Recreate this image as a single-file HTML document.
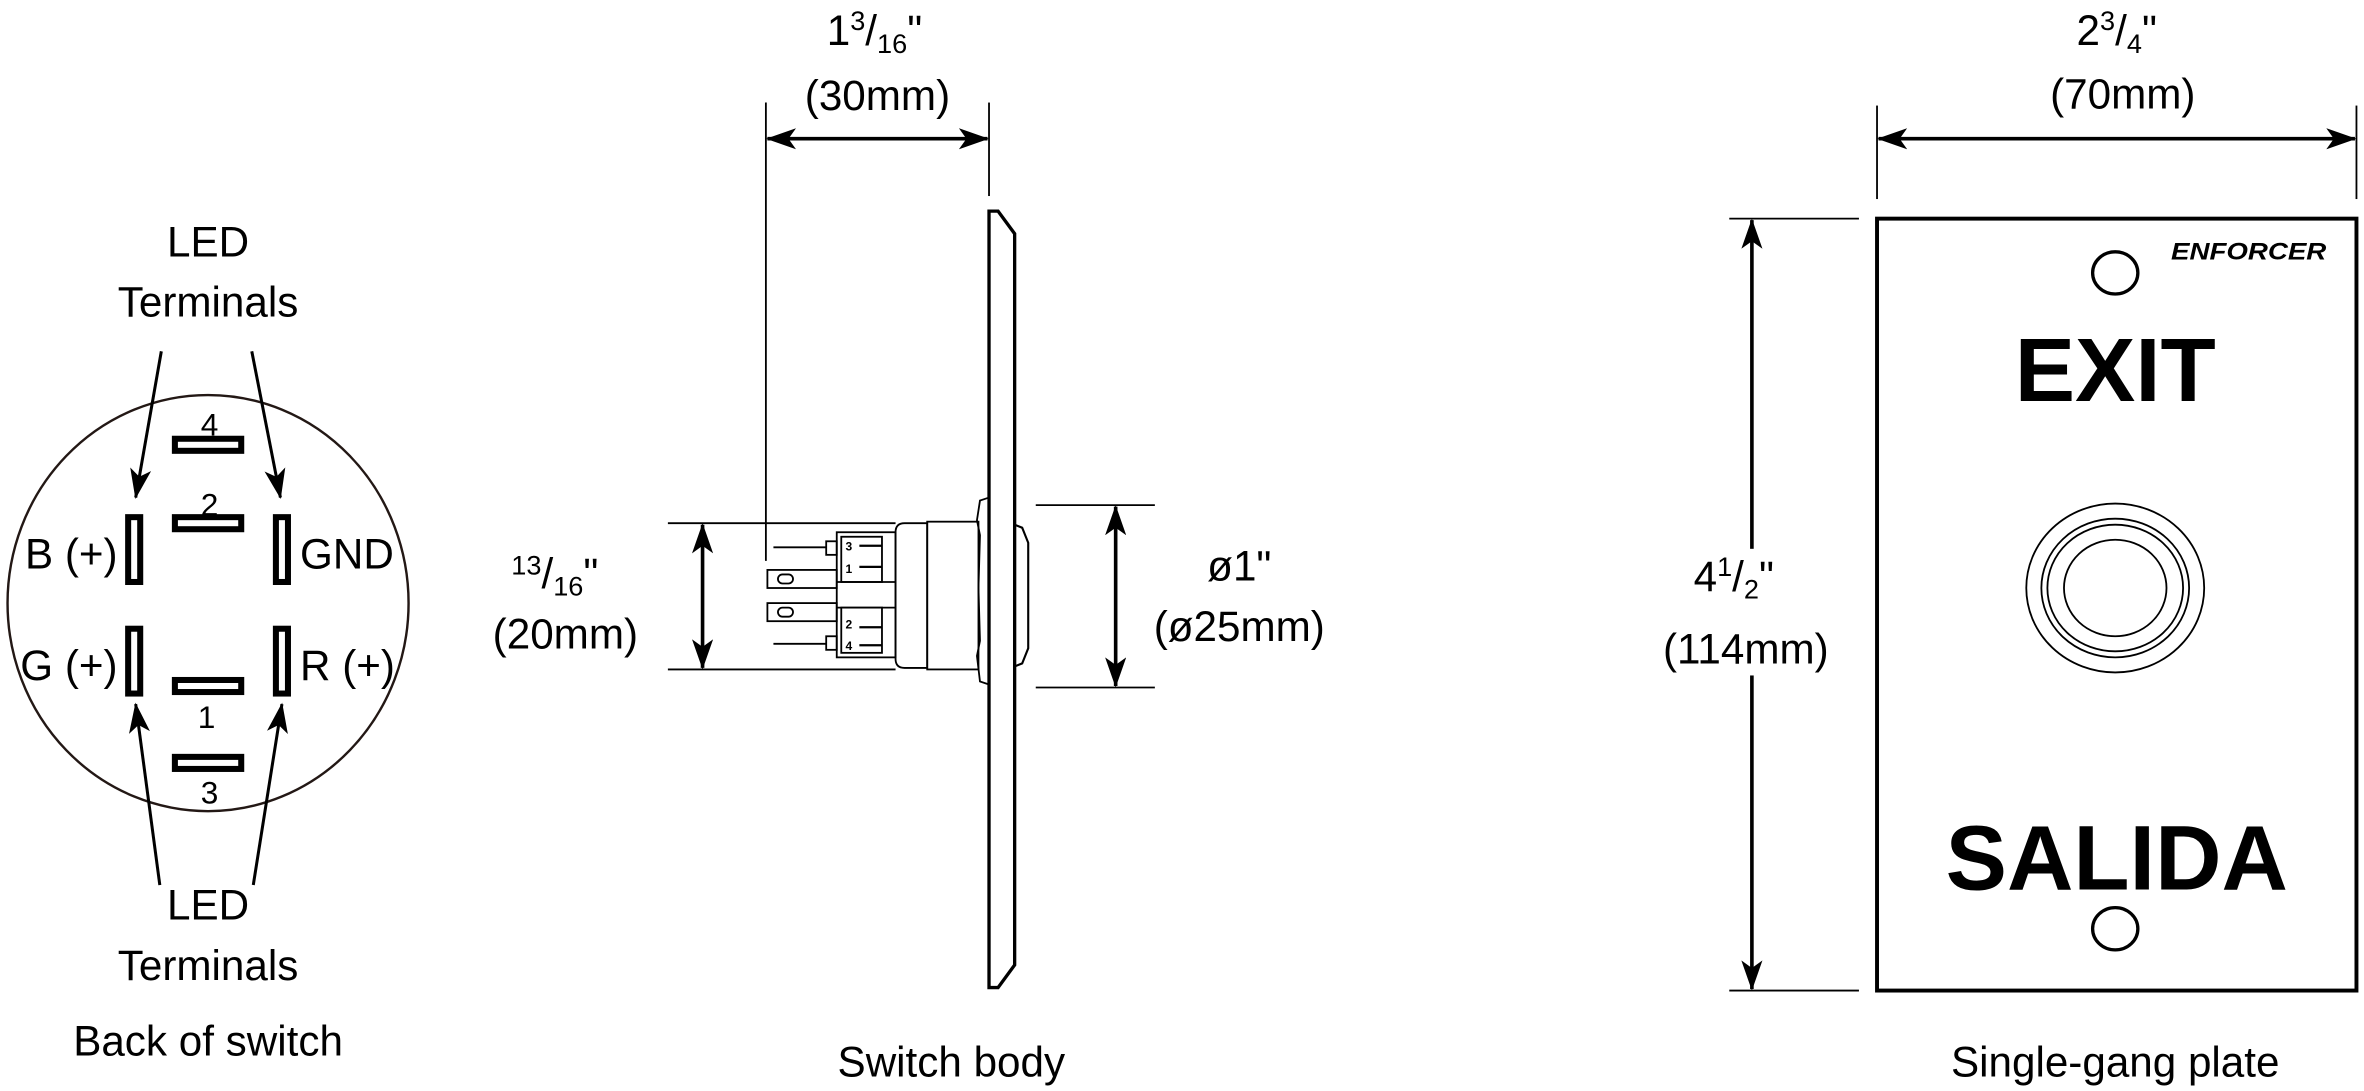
<!DOCTYPE html>
<html><head><meta charset="utf-8"><style>
html,body{margin:0;padding:0;background:#fff;}
svg{display:block;}
text{font-family:"Liberation Sans",sans-serif;fill:#000;}
</style></head><body>
<svg width="2364" height="1091" viewBox="0 0 1568 723.6" xmlns="http://www.w3.org/2000/svg">
<defs>
<marker id="ah" viewBox="0 0 20 14" refX="19" refY="7" markerWidth="20" markerHeight="14" markerUnits="userSpaceOnUse" orient="auto-start-reverse">
<path d="M0,0 L20,7 L0,14 L5,7 Z" fill="#000"/>
</marker>
</defs>
<g font-size="28" text-anchor="middle">
<!-- LEFT -->
<ellipse cx="138" cy="400" rx="133" ry="138" fill="none" stroke="#231815" stroke-width="1.6"/>
<text x="138" y="170">LED</text>
<text x="138" y="210">Terminals</text>
<g fill="none" stroke="#000" stroke-width="4">
<rect x="116" y="291" width="44" height="8"/>
<rect x="116" y="343" width="44" height="8"/>
<rect x="116" y="451" width="44" height="8"/>
<rect x="116" y="502" width="44" height="8"/>
<rect x="85" y="343" width="8" height="43"/>
<rect x="85" y="417" width="8" height="43"/>
<rect x="183" y="343" width="8" height="43"/>
<rect x="183" y="417" width="8" height="43"/>
</g>
<g font-size="21">
<text x="139" y="289">4</text>
<text x="139" y="342">2</text>
<text x="137" y="483">1</text>
<text x="139" y="533">3</text>
</g>
<text x="78" y="377" text-anchor="end">B (+)</text>
<text x="78" y="451" text-anchor="end">G (+)</text>
<text x="199" y="377" text-anchor="start">GND</text>
<text x="199" y="451" text-anchor="start">R (+)</text>
<g stroke="#000" stroke-width="2" marker-end="url(#ah)">
<line x1="107" y1="233" x2="90" y2="330"/>
<line x1="167" y1="233" x2="186" y2="330"/>
<line x1="106" y1="587" x2="90" y2="467"/>
<line x1="168" y1="587" x2="187" y2="467"/>
</g>
<text x="138" y="610">LED</text>
<text x="138" y="650">Terminals</text>
<text x="138" y="700">Back of switch</text>

<!-- MIDDLE -->
<text x="580" y="30">1<tspan font-size="18" dy="-10">3</tspan><tspan dy="10">/</tspan><tspan font-size="18" dy="5">16</tspan><tspan dy="-5">"</tspan></text>
<text x="582" y="73">(30mm)</text>
<g stroke="#000" stroke-width="1.2">
<line x1="508" y1="68" x2="508" y2="372"/>
<line x1="656" y1="68" x2="656" y2="130"/>
<line x1="443" y1="347" x2="594" y2="347"/>
<line x1="443" y1="444" x2="594" y2="444"/>
<line x1="687" y1="335" x2="766" y2="335"/>
<line x1="687" y1="456" x2="766" y2="456"/>
</g>
<g stroke="#000" stroke-width="2.4" marker-end="url(#ah)" marker-start="url(#ah)">
<line x1="509" y1="92" x2="655" y2="92"/>
<line x1="466" y1="348" x2="466" y2="443"/>
<line x1="740" y1="336" x2="740" y2="455"/>
<line x1="1246" y1="92" x2="1562" y2="92"/>
<line x1="1162" y1="146" x2="1162" y2="656"/>
</g>
<text x="368" y="390"><tspan font-size="18" dy="-9">13</tspan><tspan dy="9">/</tspan><tspan font-size="18" dy="5">16</tspan><tspan dy="-5">"</tspan></text>
<text x="375" y="430">(20mm)</text>
<text x="822" y="385">ø1"</text>
<text x="822" y="425">(ø25mm)</text>
<!-- plate profile -->
<path d="M656,140 L662,140 L673,155 L673,640 L662,655 L656,655 Z" fill="#fff" stroke="#000" stroke-width="2.2"/>
<path d="M673,348 L678,350 L682,360 L682,430 L678,440 L673,442" fill="none" stroke="#000" stroke-width="1.4"/>
<!-- switch body -->
<g fill="none" stroke="#000" stroke-width="1.2">
<path d="M656,330 L650,332 L648,345 L650,355 L649,390 L650,425 L648,435 L650,452 L656,454"/>
<rect x="615" y="346" width="34" height="98"/>
<path d="M600,347 L615,347 L615,443 L600,443 Q594,443 594,437 L594,353 Q594,347 600,347 Z"/>
<rect x="555" y="353" width="39" height="83"/>
<rect x="558" y="356" width="27" height="30"/>
<rect x="558" y="403" width="27" height="30"/>
<line x1="555" y1="386" x2="594" y2="386"/>
<line x1="555" y1="403" x2="594" y2="403"/>
<line x1="513" y1="363" x2="548" y2="363"/>
<line x1="513" y1="427" x2="548" y2="427"/>
<rect x="548" y="359" width="7" height="9"/>
<rect x="548" y="422" width="7" height="9"/>
<rect x="509" y="378" width="46" height="12"/>
<rect x="509" y="400" width="46" height="12"/>
<rect x="516" y="381" width="10" height="6" rx="3"/>
<rect x="516" y="403" width="10" height="6" rx="3"/>
</g>
<g stroke="#000" stroke-width="1.5">
<line x1="570" y1="362" x2="585" y2="362"/>
<line x1="570" y1="376" x2="585" y2="376"/>
<line x1="570" y1="416" x2="585" y2="416"/>
<line x1="570" y1="428" x2="585" y2="428"/>
</g>
<g font-size="8" font-weight="bold">
<text x="563" y="365">3</text><text x="563" y="380">1</text>
<text x="563" y="417">2</text><text x="563" y="431">4</text>
</g>
<text x="631" y="714">Switch body</text>

<!-- RIGHT -->
<text x="1404" y="30">2<tspan font-size="18" dy="-10">3</tspan><tspan dy="10">/</tspan><tspan font-size="18" dy="5">4</tspan><tspan dy="-5">"</tspan></text>
<text x="1408" y="72">(70mm)</text>
<g stroke="#000" stroke-width="1.2">
<line x1="1245" y1="70" x2="1245" y2="132"/>
<line x1="1563" y1="70" x2="1563" y2="132"/>
<line x1="1147" y1="145" x2="1233" y2="145"/>
<line x1="1147" y1="657" x2="1233" y2="657"/>
</g>
<rect x="1100" y="364" width="118" height="84" fill="#fff"/>
<text x="1150" y="392">4<tspan font-size="18" dy="-10">1</tspan><tspan dy="10">/</tspan><tspan font-size="18" dy="5">2</tspan><tspan dy="-5">"</tspan></text>
<text x="1158" y="440">(114mm)</text>
<rect x="1245" y="145" width="318" height="512" fill="none" stroke="#000" stroke-width="2.6"/>
<ellipse cx="1403" cy="181" rx="15" ry="14" fill="none" stroke="#000" stroke-width="2.2"/>
<ellipse cx="1403" cy="616" rx="15" ry="14" fill="none" stroke="#000" stroke-width="2.2"/>
<text x="1403" y="266" font-size="60" font-weight="bold">EXIT</text>
<text x="1404" y="590" font-size="61" font-weight="bold">SALIDA</text>
<text x="1440" y="172" font-size="16" font-weight="900" font-style="italic" text-anchor="start" textLength="103" lengthAdjust="spacingAndGlyphs">ENFORCER</text>
<g fill="none" stroke="#000" stroke-width="1.2">
<ellipse cx="1403" cy="390" rx="59" ry="56"/>
<ellipse cx="1403" cy="390" rx="49" ry="46"/>
<ellipse cx="1403" cy="390" rx="45" ry="42"/>
<ellipse cx="1403" cy="390" rx="34" ry="32"/>
</g>
<text x="1403" y="714">Single-gang plate</text>
</g>
</svg>
</body></html>
